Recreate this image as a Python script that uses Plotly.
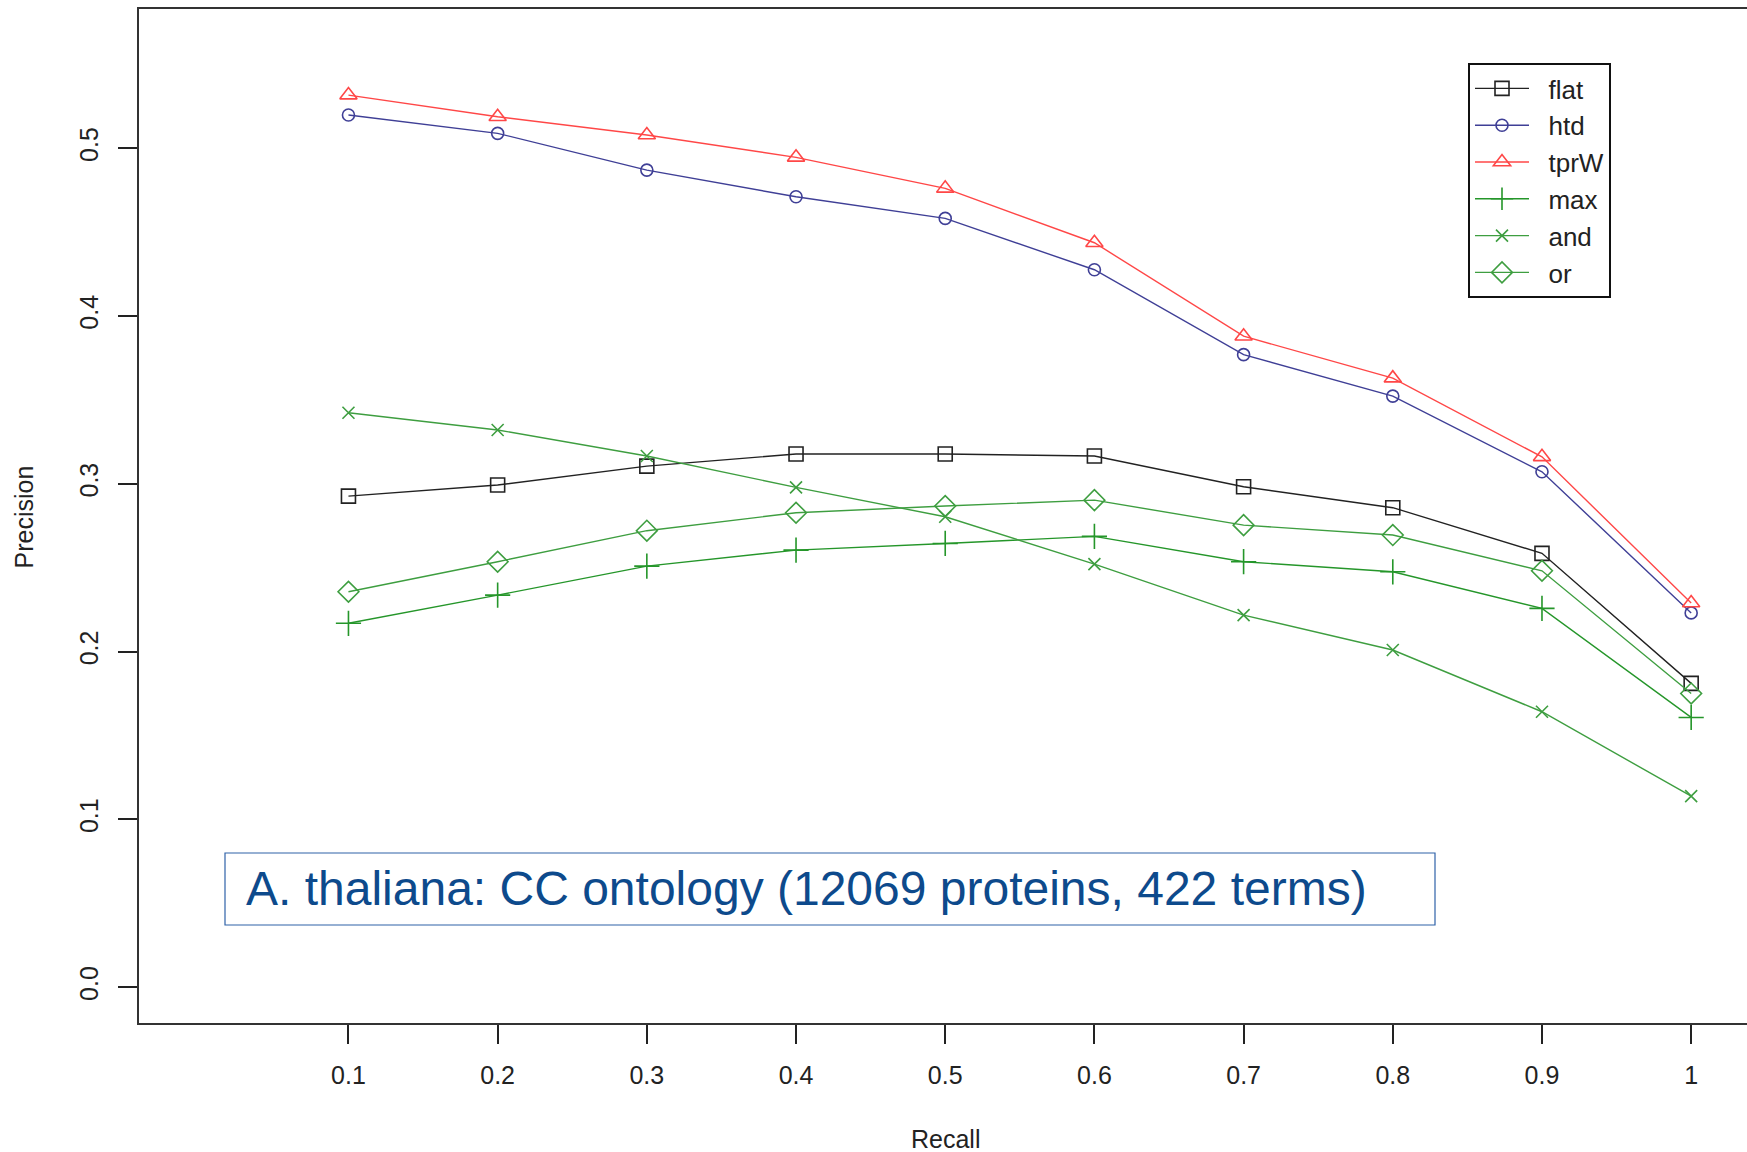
import plotly.graph_objects as go

recall = [0.1, 0.2, 0.3, 0.4, 0.5, 0.6, 0.7, 0.8, 0.9, 1.0]
x_tick_labels = ["0.1", "0.2", "0.3", "0.4", "0.5", "0.6", "0.7", "0.8", "0.9", "1"]
y_tick_vals = [0.0, 0.1, 0.2, 0.3, 0.4, 0.5]
y_tick_labels = ["0.0", "0.1", "0.2", "0.3", "0.4", "0.5"]

flat = [0.2927, 0.2993, 0.3106, 0.3178, 0.3178, 0.3166, 0.2983, 0.2858, 0.2586, 0.1811]
htd = [0.5198, 0.5089, 0.4870, 0.4711, 0.4582, 0.4276, 0.3770, 0.3523, 0.3072, 0.2231]
tprW = [0.5317, 0.5188, 0.5079, 0.4946, 0.4761, 0.4437, 0.3880, 0.3630, 0.3161, 0.2290]
max_ = [0.2169, 0.2337, 0.2510, 0.2605, 0.2645, 0.2687, 0.2536, 0.2476, 0.2258, 0.1608]
and_ = [0.3424, 0.3321, 0.3166, 0.2979, 0.2804, 0.2522, 0.2218, 0.2010, 0.1642, 0.1139]
or_ = [0.2357, 0.2536, 0.2721, 0.2828, 0.2868, 0.2903, 0.2754, 0.2695, 0.2482, 0.1751]

series_names = ["flat", "htd", "tprW", "max", "and", "or"]
series_values = [flat, htd, tprW, max_, and_, or_]
colors = ["#222222", "#3f3f96", "#ff4747", "#25962a", "#3e9e40", "#3e9e40"]
symbols = ["square-open", "circle-open", "triangle-up-open", "cross-thin-open", "x-thin-open", "diamond-open"]
sizes = [14, 12, 15, 18, 12, 16]

annotation_text = "A. thaliana: CC ontology (12069 proteins, 422 terms)"

W, H = 1747, 1152
ML, MR, MT, MB = 139, 0, 9, 129
pw = W - ML - MR
ph = H - MT - MB

FONT = "Liberation Sans, Arial, Helvetica, sans-serif"
PAD = "\u00a0\u00a0"

fig = go.Figure()
for name, vals, col, sym, sz in zip(series_names, series_values, colors, symbols, sizes):
    fig.add_trace(go.Scatter(
        x=recall, y=vals, name=PAD + name, mode="lines+markers",
        line=dict(color=col, width=1.4),
        marker=dict(symbol=sym, size=sz, color=col, line=dict(color=col, width=1.6)),
    ))

def px_x(p):
    return (p - ML) / pw

def px_y(p):
    return (H - MB - p) / ph

fig.update_layout(
    width=W, height=H,
    margin=dict(l=ML, r=MR, t=MT, b=MB, autoexpand=False),
    paper_bgcolor="white", plot_bgcolor="white",
    font=dict(family=FONT, size=25, color="#222222"),
    showlegend=True,
    legend=dict(
        x=px_x(1468), y=px_y(63), xanchor="left", yanchor="top",
        bordercolor="#111111", borderwidth=2, bgcolor="white",
        font=dict(family=FONT, size=26, color="#222222"),
        itemwidth=54, tracegroupgap=0,
    ),
    xaxis=dict(
        range=[-0.0404, -0.0404 + pw / 1491.9],
        tickmode="array", tickvals=recall, ticktext=x_tick_labels,
        ticks="outside", ticklen=19, tickwidth=1.5, tickcolor="#222222",
        showgrid=False, zeroline=False,
        showline=True, linecolor="#333333", linewidth=2, mirror=True,
        tickfont=dict(family=FONT, size=25, color="#222222"),
        ticklabelstandoff=10,
    ),
    yaxis=dict(
        range=[-0.0213, 0.583],
        tickmode="array", tickvals=y_tick_vals, ticktext=y_tick_labels,
        ticks="outside", ticklen=19, tickwidth=1.5, tickcolor="#222222",
        tickangle=-90,
        showgrid=False, zeroline=False,
        showline=True, linecolor="#333333", linewidth=2, mirror=False,
        tickfont=dict(family=FONT, size=25, color="#222222"),
        ticklabelstandoff=10,
    ),
    shapes=[
        dict(type="rect", xref="paper", yref="paper",
             x0=px_x(225), x1=px_x(1435), y0=px_y(925), y1=px_y(853),
             line=dict(color="#2f62a8", width=1.2), fillcolor="white", layer="below"),
    ],
    annotations=[
        dict(text=annotation_text, xref="paper", yref="paper",
             x=px_x(244), y=px_y(888), xanchor="left", yanchor="middle",
             showarrow=False, font=dict(family=FONT, size=48, color="#0d4a8c")),
        dict(text="Recall", xref="x", yref="paper", x=0.5, y=px_y(1139),
             xanchor="center", yanchor="middle", showarrow=False,
             font=dict(family=FONT, size=25, color="#222222")),
        dict(text="Precision", xref="paper", yref="y", x=px_x(24), y=0.28,
             xanchor="center", yanchor="middle", showarrow=False, textangle=-90,
             font=dict(family=FONT, size=25, color="#222222")),
    ],
)

fig.write_html("out.html")
